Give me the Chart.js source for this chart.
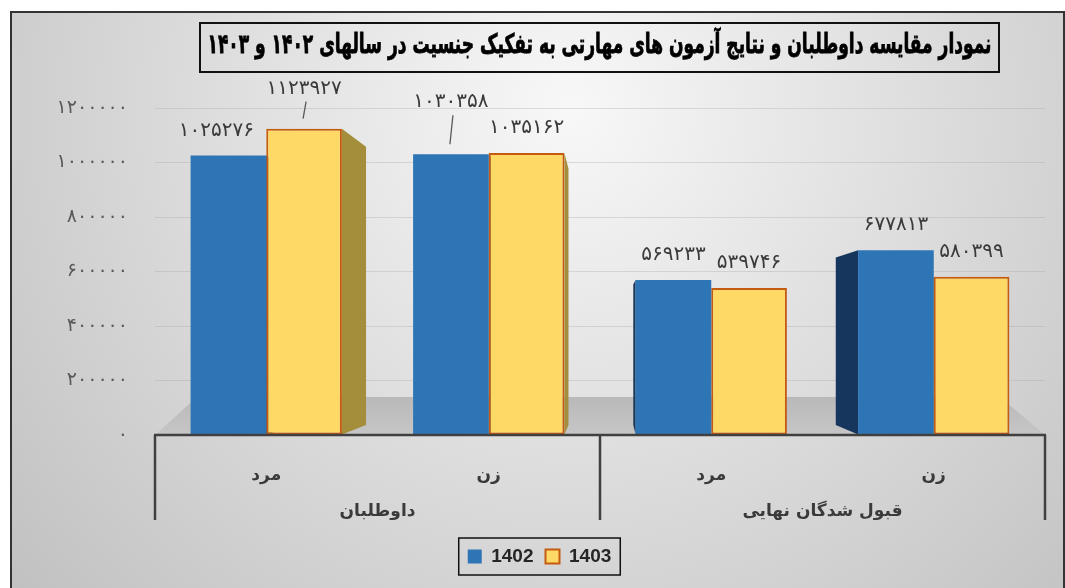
<!DOCTYPE html>
<html><head><meta charset="utf-8">
<script src="https://cdn.jsdelivr.net/npm/chart.js@4"></script>
<style>html,body{margin:0;padding:0;background:#fff;} #wrap{width:1065px;height:588px;position:relative;}</style>
</head><body><div id="wrap"><canvas id="c" width="1065" height="588"></canvas></div>
<script>
const titleText = 'نمودار مقایسه داوطلبان و نتایج آزمون های مهارتی به تفکیک جنسیت در سالهای ۱۴۰۲ و ۱۴۰۳';
const categories = ['مرد', 'زن', 'مرد', 'زن'];
const groups = ['داوطلبان', 'قبول شدگان نهایی'];
const seriesNames = ['1402', '1403'];
const values1402 = [1025276, 1030358, 569233, 677813];
const values1403 = [1123927, 1035162, 539746, 580399];
const yMin = 0, yMax = 1200000, yStep = 200000;

const fa = n => String(n).replace(/\d/g, d => '۰۱۲۳۴۵۶۷۸۹'[d]);
const FONT = "'DejaVu Sans', sans-serif";

const bgPlugin = {
  id: 'bg',
  beforeDraw(chart) {
    const { ctx, width, height } = chart;
    ctx.save();
    ctx.fillStyle = '#fff';
    ctx.fillRect(0, 0, width, height);
    const g = ctx.createRadialGradient(570, 110, 10, 570, 110, 760);
    g.addColorStop(0, '#f7f7f7');
    g.addColorStop(1, '#bfbfbf');
    ctx.fillStyle = g;
    ctx.fillRect(10, 11, width - 10, height - 11);
    ctx.strokeStyle = '#333';
    ctx.lineWidth = 2;
    ctx.strokeRect(11, 12, width - 12, height + 10);
    ctx.restore();
  },
  afterDraw(chart) {
    const { ctx } = chart;
    ctx.save();
    // title box
    ctx.strokeStyle = '#111';
    ctx.lineWidth = 2;
    ctx.strokeRect(200, 23, 799, 49);
    ctx.direction = 'rtl';
    ctx.fillStyle = '#000';
    ctx.textAlign = 'center';
    ctx.textBaseline = 'middle';
    ctx.font = "bold 27px " + FONT;
    const w = ctx.measureText(titleText).width;
    const sx = Math.min(1, 784 / w);
    ctx.translate(599.5, 46);
    ctx.scale(sx, 1);
    ctx.lineWidth = 0.8;
    ctx.strokeStyle = '#000';
    ctx.strokeText(titleText, 0, 0);
    ctx.fillText(titleText, 0, 0);
    ctx.restore();

    // axis line and group dividers
    const xs = chart.scales.x, ys = chart.scales.y, a = chart.chartArea;
    const yb = ys.getPixelForValue(0);
    const mid = (xs.getPixelForValue(1) + xs.getPixelForValue(2)) / 2;
    ctx.save();
    ctx.strokeStyle = '#404040';
    ctx.lineWidth = 2.5;
    ctx.beginPath();
    ctx.moveTo(a.left - 1, yb); ctx.lineTo(a.right + 1, yb);
    [a.left, mid, a.right].forEach(x => { ctx.moveTo(x, yb); ctx.lineTo(x, yb + 85); });
    ctx.stroke();
    ctx.restore();

    // legend frame
    const L = chart.legend;
    if (L && L.legendHitBoxes && L.legendHitBoxes.length) {
      const hb = L.legendHitBoxes;
      const x0 = Math.min(...hb.map(h => h.left)) - 9;
      const x1 = Math.max(...hb.map(h => h.left + h.width)) + 9;
      const y0 = Math.min(...hb.map(h => h.top)) - 9;
      const y1 = Math.max(...hb.map(h => h.top + h.height)) + 9;
      ctx.save();
      ctx.strokeStyle = '#111';
      ctx.lineWidth = 1.5;
      ctx.strokeRect(x0, y0, x1 - x0, y1 - y0);
      ctx.restore();
    }
  }
};

const depthPlugin = {
  id: 'depth',
  beforeDatasetsDraw(chart) {
    const { ctx } = chart;
    const a = chart.chartArea;
    const yb = chart.scales.y.getPixelForValue(0);
    ctx.save();
    const g = ctx.createLinearGradient(0, yb - 38, 0, yb);
    g.addColorStop(0, '#b9b9b9');
    g.addColorStop(1, '#c6c6c6');
    ctx.fillStyle = g;
    ctx.beginPath();
    ctx.moveTo(a.left, yb);
    ctx.lineTo(a.left + 42, yb - 38);
    ctx.lineTo(a.right - 45, yb - 38);
    ctx.lineTo(a.right, yb);
    ctx.closePath();
    ctx.fill();
    const vx = 610, vy = 330, f = 0.09;
    const sideCols = ['#17365d', '#a48e3c'];
    chart.data.datasets.forEach((ds, di) => {
      const meta = chart.getDatasetMeta(di);
      meta.data.forEach(bar => {
        const p = bar.getProps(['x', 'y', 'base', 'width'], true);
        const ex = p.x < vx ? p.x + p.width / 2 : p.x - p.width / 2;
        const t2x = ex + (vx - ex) * f, t2y = p.y + (vy - p.y) * f;
        const b2y = p.base + (vy - p.base) * f;
        ctx.fillStyle = sideCols[di];
        ctx.beginPath();
        ctx.moveTo(ex, p.y);
        ctx.lineTo(t2x, t2y);
        ctx.lineTo(t2x, b2y);
        ctx.lineTo(ex, p.base);
        ctx.closePath();
        ctx.fill();
      });
    });
    ctx.restore();
  },
  afterDatasetsDraw(chart) {
    const { ctx } = chart;
    const lifts = { '0-1': 52, '1-0': 40 };
    const shifts = { '0-0': -12 };
    ctx.save();
    ctx.font = "20px " + FONT;
    ctx.fillStyle = '#3a3a3a';
    ctx.textAlign = 'center';
    ctx.textBaseline = 'middle';
    chart.data.datasets.forEach((ds, di) => {
      const meta = chart.getDatasetMeta(di);
      meta.data.forEach((bar, i) => {
        const p = bar.getProps(['x', 'y'], true);
        const key = di + '-' + i;
        const lift = lifts[key] || 25;
        const ly = p.y - lift;
        ctx.fillText(fa(ds.data[i]), p.x + (shifts[key] || 0), ly);
        if (lifts[key]) {
          ctx.strokeStyle = '#595959';
          ctx.lineWidth = 1.3;
          ctx.beginPath();
          ctx.moveTo(p.x + 2, ly + 13);
          ctx.lineTo(p.x - 1, p.y - 10);
          ctx.stroke();
        }
      });
    });
    ctx.restore();
  }
};

new Chart(document.getElementById('c'), {
  type: 'bar',
  data: {
    labels: categories,
    datasets: [
      { label: seriesNames[0], data: values1402, backgroundColor: '#2e75b6', borderColor: '#2e75b6', borderWidth: 0 },
      { label: seriesNames[1], data: values1403, backgroundColor: '#ffd966', borderColor: '#c55a11', borderWidth: 2, borderSkipped: false }
    ]
  },
  options: {
    responsive: false,
    animation: false,
    devicePixelRatio: 1,
    categoryPercentage: 0.68,
    barPercentage: 1.0,
    layout: { padding: { top: 108, left: 34, right: 20, bottom: 12 } },
    plugins: {
      tooltip: { enabled: false },
      title: { display: false },
      legend: {
        position: 'bottom',
        labels: {
          font: { family: "'Liberation Sans Narrow', 'Liberation Sans', sans-serif", size: 19, weight: 'bold' },
          color: '#262626',
          boxWidth: 14, boxHeight: 14, padding: 12
        }
      }
    },
    scales: {
      x: {
        offset: true,
        grid: { display: false },
        border: { display: false },
        ticks: { font: { family: FONT, size: 17, weight: 'bold' }, color: '#3a3a3a', padding: 22 },
        afterFit: s => { s.height = 50; }
      },
      x2: {
        type: 'category',
        labels: groups,
        offset: true,
        position: 'bottom',
        grid: { display: false },
        border: { display: false },
        ticks: { font: { family: FONT, size: 17, weight: 'bold' }, color: '#3a3a3a', padding: 8 },
        afterFit: s => { s.height = 50; }
      },
      y: {
        min: yMin, max: yMax,
        ticks: { stepSize: yStep, callback: v => fa(v), font: { family: FONT, size: 19 }, color: '#595959', padding: 27 },
        grid: { color: 'rgba(160,160,160,0.3)', drawTicks: false, lineWidth: 1 },
        border: { display: false },
        afterFit: s => { s.width = 121; }
      }
    }
  },
  plugins: [bgPlugin, depthPlugin]
});
</script></body></html>
